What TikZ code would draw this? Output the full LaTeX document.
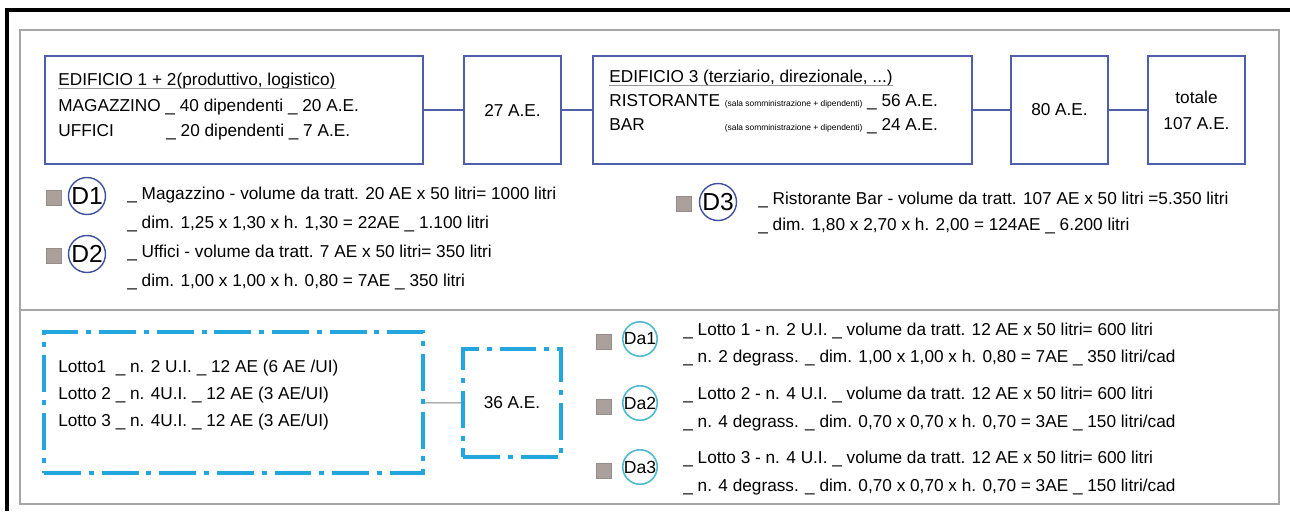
\documentclass[tikz,border=0pt]{standalone}
\usepackage{fontspec}
\setmainfont{Liberation Sans}
\usepackage{xcolor}
\usepackage{tikz}
\definecolor{boxblue}{HTML}{4E5EAC}
\definecolor{circblue}{HTML}{4050A0}
\definecolor{circcyan}{HTML}{4DB8CF}
\definecolor{lotblue}{HTML}{22A6DD}
\definecolor{sqgray}{HTML}{AAA09C}
\definecolor{sqedge}{HTML}{958C88}
\definecolor{framegray}{HTML}{A6A6A6}
\tikzset{
  ebox/.style={draw=boxblue,line width=0.9pt,minimum height=2.16cm,inner sep=0pt,font=\fontsize{9.8}{14.7}\selectfont,align=center},
  lnk/.style={draw=boxblue,line width=0.9pt},
  txt/.style={anchor=mid west,inner sep=0pt,font=\fontsize{9.8}{12}\selectfont},
  uline/.style={draw=gray!80,line width=0.5pt},
  sq/.style={draw=sqedge,fill=sqgray,minimum size=0.3cm,inner sep=0pt},
  dcirc/.style={circle,draw=circblue,line width=0.8pt,minimum size=0.74cm,inner sep=0pt,font=\fontsize{14}{14}\selectfont},
  dacirc/.style={circle,draw=circcyan,line width=0.9pt,minimum size=0.66cm,inner sep=0pt,font=\fontsize{10}{10}\selectfont},
  lotbox/.style={draw=lotblue,line width=2.2pt,dash pattern=on 21pt off 4.5pt on 2.8pt off 4.5pt,inner sep=0pt,font=\fontsize{9.8}{12}\selectfont}
}
\newcommand{\piccolo}[1]{{\fontsize{4.8}{6}\selectfont #1}}

\begin{document}
\begin{tikzpicture}[x=0.02cm,y=-0.02cm]
\useasboundingbox (0,0) rectangle (1290,511);
% frames
\draw[line width=2pt] (7,511) -- (7,10) -- (1290,10);
\draw[framegray,line width=0.6pt] (20,30) rectangle (1279,504);
\draw[framegray,line width=0.6pt] (20,310) -- (1279,310);

% top row of buildings
\node[ebox,minimum width=7.56cm] (ed12) at (234,110) {};
\node[ebox,minimum width=1.94cm] (ae27) at (512.5,110) {27 A.E.};
\node[ebox,minimum width=7.58cm] (ed3) at (782.5,110) {};
\node[ebox,minimum width=1.94cm] (ae80) at (1059.5,110) {80 A.E.};
\node[ebox,minimum width=1.94cm] (aetot) at (1196.5,110) {totale\\107 A.E.};
\draw[lnk] (ed12) -- (ae27); \draw[lnk] (ae27) -- (ed3); \draw[lnk] (ed3) -- (ae80); \draw[lnk] (ae80) -- (aetot);

\node[txt] (t12) at (58,81) {EDIFICIO 1 + 2(produttivo, logistico)};
\draw[uline] ([yshift=-1.5pt]t12.base west) -- ([yshift=-1.5pt]t12.base east);
\node[txt] (mag) at (58,107) {MAGAZZINO \_ 40 dipendenti \_ 20 A.E.};
\node[txt] (uff) at (58,132) {UFFICI};
\node[txt] (uff2) at (166,132) {\_ 20 dipendenti \_ 7 A.E.};

\node[txt] (t3) at (609,78) {EDIFICIO 3 (terziario, direzionale, ...)};
\draw[uline] ([yshift=-1.5pt]t3.base west) -- ([yshift=-1.5pt]t3.base east);
\node[txt] (rist) at (609,102) {RISTORANTE \piccolo{(sala somministrazione + dipendenti)} \_ 56 A.E.};
\node[txt] (bar) at (609,126) {BAR};
\node[txt,anchor=mid east] (bar2) at (rist.east |- bar.mid) {\piccolo{(sala somministrazione + dipendenti)} \_ 24 A.E.};

% degrassatori D
\node[sq] (sq1) at (54,198) {}; \node[dcirc] (d1) at (87,196) {D1};
\node[txt] (d1a) at (127,195) {\_ Magazzino - volume da tratt. 20 AE x 50 litri= 1000 litri};
\node[txt] (d1b) at (127,224) {\_ dim. 1,25 x 1,30 x h. 1,30 = 22AE \_ 1.100 litri};
\node[sq] (sq2) at (54,256) {}; \node[dcirc] (d2) at (87,254) {D2};
\node[txt] (d2a) at (127,253) {\_ Uffici - volume da tratt. 7 AE x 50 litri= 350 litri};
\node[txt] (d2b) at (127,282) {\_ dim. 1,00 x 1,00 x h. 0,80 = 7AE \_ 350 litri};
\node[sq] (sq3) at (684,204) {}; \node[dcirc] (d3) at (718,202) {D3};
\node[txt] (d3a) at (758,200) {\_ Ristorante Bar - volume da tratt. 107 AE x 50 litri =5.350 litri};
\node[txt] (d3b) at (758,226) {\_ dim. 1,80 x 2,70 x h. 2,00 = 124AE \_ 6.200 litri};

% lotti
\node[lotbox,minimum width=7.58cm,minimum height=2.82cm] (lotti) at (233.5,402.5) {};
\node[lotbox,minimum width=1.96cm,minimum height=2.16cm] (ae36) at (512,403) {36 A.E.};
\draw[gray,line width=0.5pt] (lotti) -- (ae36);
\node[txt] (l1) at (58,368) {Lotto1\ \ \_ n. 2 U.I. \_ 12 AE (6 AE /UI)};
\node[txt] (l2) at (58,395) {Lotto 2 \_ n. 4U.I. \_ 12 AE (3 AE/UI)};
\node[txt] (l3) at (58,422) {Lotto 3 \_ n. 4U.I. \_ 12 AE (3 AE/UI)};

% degrassatori Da
\node[sq] (sqa1) at (604,342) {}; \node[dacirc] (da1) at (640,339) {Da1};
\node[txt] (da1a) at (683,331) {\_ Lotto 1 - n. 2 U.I. \_ volume da tratt. 12 AE x 50 litri= 600 litri};
\node[txt] (da1b) at (683,358) {\_ n. 2 degrass. \_ dim. 1,00 x 1,00 x h. 0,80 = 7AE \_ 350 litri/cad};
\node[sq] (sqa2) at (604,407) {}; \node[dacirc] (da2) at (640,403) {Da2};
\node[txt] (da2a) at (683,395) {\_ Lotto 2 - n. 4 U.I. \_ volume da tratt. 12 AE x 50 litri= 600 litri};
\node[txt] (da2b) at (683,423) {\_ n. 4 degrass. \_ dim. 0,70 x 0,70 x h. 0,70 = 3AE \_ 150 litri/cad};
\node[sq] (sqa3) at (604,471) {}; \node[dacirc] (da3) at (640,467) {Da3};
\node[txt] (da3a) at (683,459) {\_ Lotto 3 - n. 4 U.I. \_ volume da tratt. 12 AE x 50 litri= 600 litri};
\node[txt] (da3b) at (683,487) {\_ n. 4 degrass. \_ dim. 0,70 x 0,70 x h. 0,70 = 3AE \_ 150 litri/cad};
\end{tikzpicture}
\end{document}
